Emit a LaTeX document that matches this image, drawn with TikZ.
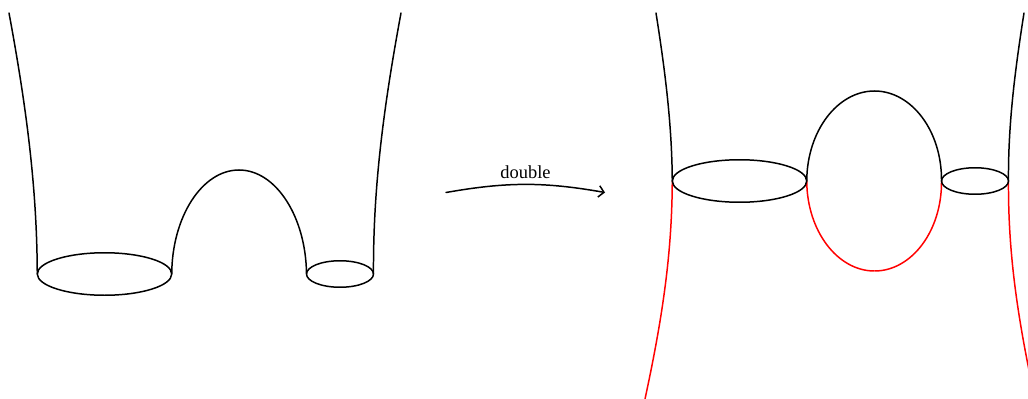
\documentclass[tikz,border=0pt]{standalone}
\usepackage{fontspec}
\setmainfont{Liberation Serif}
\usetikzlibrary{arrows.meta, backgrounds, positioning, shapes.geometric}
\tikzset{
  >={Straight Barb[length=3pt, width=6.5pt]},
  every picture/.style={line cap=round, line join=round},
  rim/.style={ellipse, draw, inner sep=0pt, outer sep=0pt},
  bigrim/.style={rim, minimum width=2.69cm, minimum height=0.85cm},
  smallrim/.style={rim, minimum width=1.34cm, minimum height=0.53cm},
  copyline/.style={red, line width=0.85pt},
}
\begin{document}
\begin{tikzpicture}[x=0.02cm, y=-0.02cm, line width=0.85pt]
  \useasboundingbox (0,0) rectangle (1028,399);
  % pants
  \node[bigrim] (rimA) at (104.5,274) {};
  \node[smallrim] (rimB) at (340,274) {};
  \coordinate (topA) at (9,13);
  \coordinate (topB) at (401,13);
  \coordinate (archtop) at (239,170);
  \draw (rimA.west) .. controls (37,190) and (27,110) .. (topA);
  \draw (rimB.east) .. controls (373,190) and (383,110) .. (topB);
  \draw (rimA.east) .. controls (172,217) and (202,170) .. (archtop);
  \draw (archtop) .. controls (276,170) and (306,217) .. (rimB.west);
  % map
  \coordinate (mapin) at (446,192.5);
  \coordinate (mapout) at (605,192.5);
  \draw[->] (mapin) to[bend left=10] node[above=-0.5pt, font=\fontsize{10.5}{12}\selectfont] (maplabel) {double} (mapout);
  % doubled surface
  \node[bigrim] (rimC) at (739.5,181) {};
  \node[smallrim] (rimD) at (975,181) {};
  \coordinate (topC) at (656,13);
  \coordinate (topD) at (1024,13);
  \coordinate (botC) at (645,399);
  \coordinate (botD) at (1035,399);
  \coordinate (ovaltop) at (874.5,91);
  \coordinate (ovalbot) at (874.5,271);
  \draw (rimC.west) .. controls (672,125) and (665,70) .. (topC);
  \draw (rimD.east) .. controls (1008,125) and (1015,70) .. (topD);
  \draw (rimC.east) .. controls (807,131) and (837.5,91) .. (ovaltop);
  \draw (ovaltop) .. controls (911.5,91) and (942,131) .. (rimD.west);
  \begin{scope}[on background layer]
    \draw[copyline] (rimC.west) .. controls (672,255) and (662,320) .. (botC);
    \draw[copyline] (rimD.east) .. controls (1008,255) and (1018,320) .. (botD);
    \draw[copyline] (rimC.east) .. controls (807,231) and (837.5,271) .. (ovalbot);
    \draw[copyline] (ovalbot) .. controls (911.5,271) and (942,231) .. (rimD.west);
  \end{scope}
\end{tikzpicture}
\end{document}
